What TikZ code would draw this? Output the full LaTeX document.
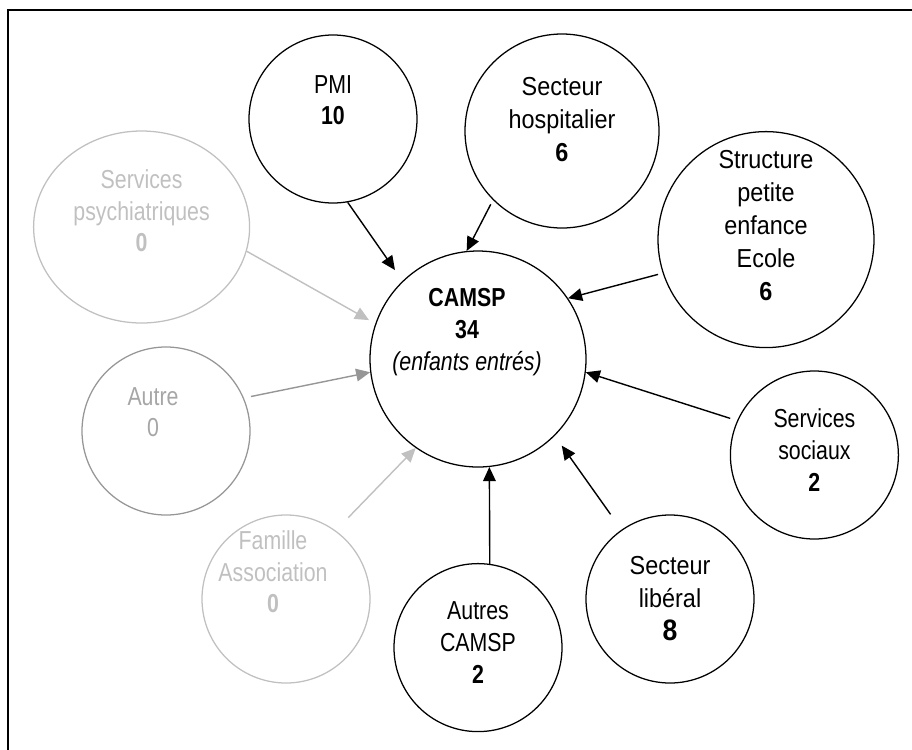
\documentclass[tikz,border=0pt]{standalone}
\usepackage{fontspec}
\setmainfont{Liberation Sans}[FakeStretch=0.82]
\newfontfamily\wideface{Liberation Sans}[FakeStretch=0.9]
\usepackage{xcolor}
\usetikzlibrary{shapes.geometric, arrows.meta}

\definecolor{palegray}{RGB}{192,192,192}
\definecolor{midgray}{RGB}{150,150,150}

\begin{document}
\begin{tikzpicture}[
    font=\fontsize{18.5pt}{22.5pt}\selectfont,
    >={Triangle[length=10pt, width=9pt]},
    src/.style={draw=#1, circle, line width=0.9pt, minimum size=4.2cm, inner sep=0pt},
    src/.default=black,
    lbl/.style={align=center, inner sep=0pt, text=#1},
    lbl/.default=black,
    wide/.style={font=\fontsize{18.5pt}{23.5pt}\selectfont\wideface},
    arrow/.style={->, line width=1pt, draw=#1},
    arrow/.default=black
]

\useasboundingbox (0,0) rectangle (22.8,-18.725);

% === FRAME (top and left sides only) ===
\draw[line width=1.8pt] (0.2,-18.8) -- (0.2,-0.25) -- (22.9,-0.25);

% === CENTRE: CAMSP ===
\node[src, minimum size=5.4cm, label={[lbl, xshift=-0.275cm, yshift=0.675cm]center:{\textbf{CAMSP}\\\textbf{34}\\\textit{(enfants entrés)}}}] (camsp) at (11.95,-8.975) {};

% === SOURCES (black) ===
\node[src, label={[lbl, yshift=0.475cm]center:{PMI\\\textbf{10}}}] (pmi) at (8.325,-2.975) {};
\node[src, minimum size=4.85cm, label={[lbl, wide, yshift=0.29cm]center:{Secteur\\hospitalier\\\textbf{6}}}] (hosp) at (14.05,-3.275) {};
\node[src, minimum size=5.4cm, label={[lbl, wide, yshift=0.36cm]center:{Structure\\petite\\enfance\\Ecole\\\textbf{6}}}] (struct) at (19.15,-5.99) {};
\node[src, label={[lbl, yshift=0.125cm]center:{Services\\sociaux\\\textbf{2}}}] (sociaux) at (20.36,-11.375) {};
\node[src, label={[lbl, wide]center:{Secteur\\libéral\\{\fontsize{21pt}{23.5pt}\selectfont\textbf{8}}}}] (liberal) at (16.75,-14.975) {};
\node[src, label={[lbl, yshift=0.125cm]center:{Autres\\CAMSP\\\textbf{2}}}] (autres) at (11.95,-16.19) {};

% === SOURCES (grey, no entries) ===
\node[draw=palegray, ellipse, line width=0.9pt, minimum width=5.4cm, minimum height=4.8cm, inner sep=0pt, label={[lbl=palegray, yshift=0.4cm]center:{Services\\psychiatriques\\\textbf{0}}}] (psych) at (3.54,-5.675) {};
\node[src=midgray, label={[lbl=midgray!85, xshift=-0.325cm, yshift=0.475cm]center:{Autre\\0}}] (autre) at (4.15,-10.775) {};
\node[src=palegray, label={[lbl=palegray, xshift=-0.325cm, yshift=0.675cm]center:{Famille\\Association\\\textbf{0}}}] (famille) at (7.15,-14.975) {};

% === ARROWS ===
\draw[arrow, shorten >=0.33cm] (pmi.-80.5) -- (camsp.134.7);
\draw[arrow, shorten <=0.12cm] (hosp.-135.4) -- (camsp.96.3);
\draw[arrow, shorten <=0.12cm] (struct.198.4) -- (camsp.34.8);
\draw[arrow, shorten <=0.18cm] (sociaux.156) -- (camsp.-7.3);
\draw[arrow, shorten <=0.47cm, shorten >=0.3cm] (liberal.125.5) -- (camsp.-45);
\draw[arrow] (autres.82.6) -- (camsp.-84.2);

\draw[arrow=palegray, shorten >=0.18cm] (psych.-13) -- (camsp.161.4);
\draw[arrow=midgray, shorten <=0.18cm] (autre.23.2) -- (camsp.187.3);
\draw[arrow=palegray, shorten <=0.45cm] (famille.54.9) -- (camsp.-125.7);

\end{tikzpicture}
\end{document}
